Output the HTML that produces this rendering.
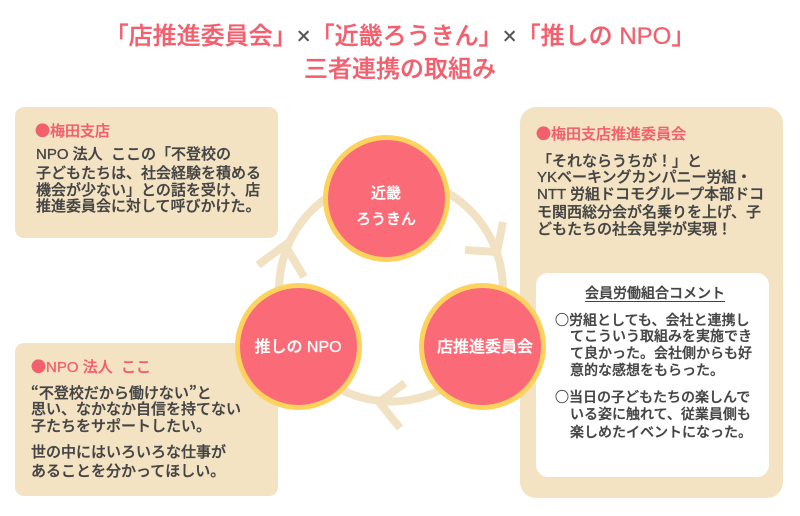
<!DOCTYPE html>
<html lang="ja">
<head>
<meta charset="utf-8">
<style>
  html, body { margin:0; padding:0; background:#fff; }
  #root { position:relative; width:800px; height:516px; overflow:hidden; background:#fff;
    font-family:"Liberation Sans","Noto Sans CJK JP",sans-serif; color:#444; font-weight:500; }
  .t { position:absolute; white-space:nowrap; -webkit-text-stroke:0.3px currentColor; }
  .cjk { font-family:"Noto Sans CJK JP","Liberation Sans",sans-serif; }
  .pk { color:#f2606e; }
  .b15 { font-size:15px; line-height:15px; }
  .b14 { font-size:14px; line-height:14px; }
  svg { position:absolute; left:0; top:0; }
</style>
</head>
<body>
<div id="root">
  <svg width="800" height="516" viewBox="0 0 800 516">
    <rect x="15" y="107" width="263" height="131" rx="9" fill="#f3e3c3"/>
    <rect x="520" y="107" width="263" height="391" rx="16" fill="#f3e3c3"/>
    <rect x="536" y="273" width="233" height="204" rx="12" fill="#ffffff"/>
    <rect x="15" y="343" width="263" height="153" rx="9" fill="#f3e3c3"/>
    <circle cx="391" cy="289.5" r="112" fill="none" stroke="#f2e2c4" stroke-width="8"/>
    <polyline points="465,250 497,252 503,222" fill="none" stroke="#f2e2c4" stroke-width="8" stroke-linejoin="miter"/>
    <polyline points="405,383 379,402 400,428" fill="none" stroke="#f2e2c4" stroke-width="8" stroke-linejoin="miter"/>
    <polyline points="258,265 285,245 304,277" fill="none" stroke="#f2e2c4" stroke-width="8" stroke-linejoin="miter"/>
    <circle cx="386.5" cy="198.5" r="61" fill="#fb6b77" stroke="#fdd35d" stroke-width="5"/>
    <circle cx="298.5" cy="346.5" r="61" fill="#fb6b77" stroke="#fdd35d" stroke-width="5"/>
    <circle cx="482.5" cy="346.5" r="61" fill="#fb6b77" stroke="#fdd35d" stroke-width="5"/>
  </svg>

  <div class="t pk" style="left:0;width:800px;text-align:center;top:25px;font-size:24px;line-height:24px;">「店推進委員会」<span style="color:#555;">×</span>「近畿ろうきん」<span style="color:#555;">×</span>「推しの NPO」</div>
  <div class="t pk" style="left:0;width:800px;text-align:center;top:58px;font-size:24px;line-height:24px;">三者連携の取組み</div>

  <div class="t" style="left:326px;width:120px;text-align:center;top:186px;font-size:15px;line-height:15px;color:#fff;">近畿</div>
  <div class="t" style="left:326px;width:120px;text-align:center;top:212px;font-size:15px;line-height:15px;color:#fff;">ろうきん</div>
  <div class="t" style="left:238px;width:120px;text-align:center;top:340px;font-size:16px;line-height:16px;color:#fff;">推しの NPO</div>
  <div class="t" style="left:425px;width:120px;text-align:center;top:340px;font-size:16px;line-height:16px;color:#fff;">店推進委員会</div>

  <div class="t b15 pk" style="left:35px;top:123px;"><span class="cjk">●</span>梅田支店</div>
  <div class="t b15" style="left:36px;top:147px;">NPO 法人&nbsp;&nbsp;ここの「不登校の</div>
  <div class="t b15" style="left:36px;top:166px;">子どもたちは、社会経験を積める</div>
  <div class="t b15" style="left:36px;top:183px;">機会が少ない」との話を受け、店</div>
  <div class="t b15" style="left:36px;top:199px;">推進委員会に対して呼びかけた。</div>

  <div class="t b15 pk" style="left:536px;top:126px;"><span class="cjk">●</span>梅田支店推進委員会</div>
  <div class="t b15" style="left:537px;top:154px;">「それならうちが！」と</div>
  <div class="t b15" style="left:537px;top:170px;">YKベーキングカンパニー労組・</div>
  <div class="t b15" style="left:537px;top:187px;">NTT 労組ドコモグループ本部ドコ</div>
  <div class="t b15" style="left:537px;top:205px;">モ関西総分会が名乗りを上げ、子</div>
  <div class="t b15" style="left:537px;top:222px;">どもたちの社会見学が実現！</div>

  <div class="t b14" style="left:585px;width:140px;text-align:center;top:286px;text-decoration:underline;text-underline-offset:3px;">会員労働組合コメント</div>
  <div class="t b14" style="left:555px;top:313px;"><span class="cjk">○</span>労組としても、会社と連携し</div>
  <div class="t b14" style="left:570px;top:329px;">てこういう取組みを実施でき</div>
  <div class="t b14" style="left:570px;top:346px;">て良かった。会社側からも好</div>
  <div class="t b14" style="left:570px;top:363px;">意的な感想をもらった。</div>
  <div class="t b14" style="left:555px;top:390px;"><span class="cjk">○</span>当日の子どもたちの楽しんで</div>
  <div class="t b14" style="left:570px;top:407px;">いる姿に触れて、従業員側も</div>
  <div class="t b14" style="left:570px;top:425px;">楽しめたイベントになった。</div>

  <div class="t b15 pk" style="left:31px;top:359px;"><span class="cjk">●</span>NPO 法人&nbsp;&nbsp;ここ</div>
  <div class="t b15" style="left:31px;top:385px;"><span class="cjk">“</span>不登校だから働けない<span class="cjk">”</span>と</div>
  <div class="t b15" style="left:31px;top:402px;">思い、なかなか自信を持てない</div>
  <div class="t b15" style="left:31px;top:419px;">子たちをサポートしたい。</div>
  <div class="t b15" style="left:31px;top:445px;">世の中にはいろいろな仕事が</div>
  <div class="t b15" style="left:31px;top:464px;">あることを分かってほしい。</div>
</div>
</body>
</html>
